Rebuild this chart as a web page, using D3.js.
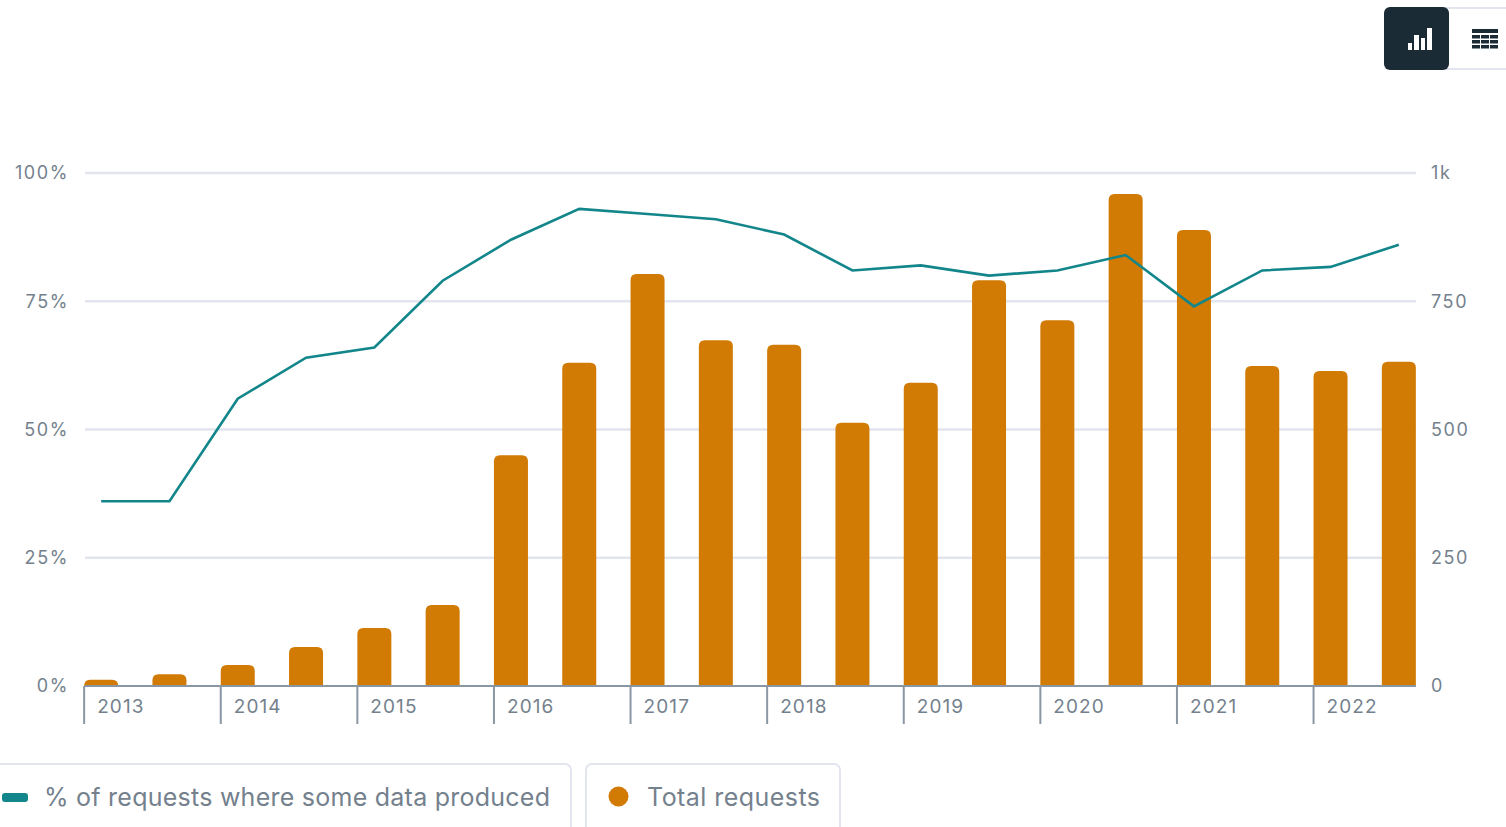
<!DOCTYPE html>
<html>
<head>
<meta charset="utf-8">
<script src="https://cdn.jsdelivr.net/npm/d3@7"></script>
<style>
  html, body { margin: 0; padding: 0; background: #fff; overflow: hidden; }
  text { font-family: Inter, "Open Sans", sans-serif; fill: #74818d; }
</style>
</head>
<body>
<div id="chart"></div>
<script>
// values
const periods = ["2013a","2013b","2014a","2014b","2015a","2015b","2016a","2016b","2017a","2017b",
                 "2018a","2018b","2019a","2019b","2020a","2020b","2021a","2021b","2022a","2022b"];
const yearLabels = ["2013","2014","2015","2016","2017","2018","2019","2020","2021","2022"];
const totalRequests = [12,23,41,76,113,158,450,630,803,674,665,513,591,791,713,959,889,624,614,632];
const pctProduced = [36,36,56,64,66,79,87,93,92,91,88,81,82,80,81,84,74,81,81.7,86];
const pctTicks = [0,25,50,75,100];
const totalTicks = [0,250,500,750,1000];

const width = 1506, height = 827;
const plot = { left: 67, right: 1433, top: 173, bottom: 686 };
const barWidth = 34;

const svg = d3.select("#chart").append("svg")
    .attr("width", width)
    .attr("height", height)
    .style("display", "block");

const x = d3.scaleBand().domain(periods).range([plot.left, plot.right]).padding(0);
const yPct = d3.scaleLinear().domain([0, 100]).range([plot.bottom, plot.top]);
const yTotal = d3.scaleLinear().domain([0, 1000]).range([plot.bottom, plot.top]);
const center = d => x(d) + x.bandwidth() / 2;

// grid + left axis
const leftAxis = svg.append("g")
    .attr("transform", "translate(85,0)")
    .call(d3.axisLeft(yPct).tickValues(pctTicks).tickFormat(d => d + "%").tickSize(0).tickPadding(16));
leftAxis.select(".domain").remove();
leftAxis.selectAll("text").style("font-size", "18px").style("letter-spacing", "1.6px");

svg.append("g").selectAll("line")
    .data(pctTicks.slice(1))
    .enter().append("line")
    .attr("x1", 85)
    .attr("x2", 1416)
    .attr("y1", d => yPct(d))
    .attr("y2", d => yPct(d))
    .attr("stroke", "#e3e5ee")
    .attr("stroke-width", 2.5);

// right axis
const rightAxis = svg.append("g")
    .attr("transform", "translate(1416,0)")
    .call(d3.axisRight(yTotal).tickValues(totalTicks).tickFormat(d => d === 1000 ? "1k" : d).tickSize(0).tickPadding(15));
rightAxis.select(".domain").remove();
rightAxis.selectAll("text").style("font-size", "18px").style("letter-spacing", "1.6px");

// bars, rounded on top only
const barPath = d => {
    const x0 = center(d.period) - barWidth / 2, x1 = x0 + barWidth;
    const y0 = yTotal(d.value), y1 = yTotal(0);
    const r = Math.min(6, y1 - y0);
    return `M${x0},${y1}V${y0 + r}Q${x0},${y0} ${x0 + r},${y0}H${x1 - r}Q${x1},${y0} ${x1},${y0 + r}V${y1}Z`;
};
svg.append("g").selectAll("path")
    .data(periods.map((p, i) => ({ period: p, value: totalRequests[i] })))
    .enter().append("path")
    .attr("d", barPath)
    .attr("fill", "#d17a04");

// x axis: a tick every two bars, label to the right of it
const xAxisG = svg.append("g");
xAxisG.append("line")
    .attr("x1", 85).attr("x2", 1416)
    .attr("y1", plot.bottom).attr("y2", plot.bottom)
    .attr("stroke", "#8a96a3").attr("stroke-width", 2);
const yearG = xAxisG.selectAll("g")
    .data(yearLabels)
    .enter().append("g")
    .attr("transform", (d, i) => "translate(" + (center(periods[i * 2]) - barWidth / 2) + "," + plot.bottom + ")");
yearG.append("line")
    .attr("y2", 38)
    .attr("stroke", "#8a96a3")
    .attr("stroke-width", 2);
yearG.append("text")
    .attr("x", 13)
    .attr("y", 27)
    .style("font-size", "19px")
    .style("letter-spacing", "1.1px")
    .text(d => d);

// line series
const line = d3.line()
    .x((d, i) => center(periods[i]))
    .y(d => yPct(d));
svg.append("path")
    .datum(pctProduced)
    .attr("d", line)
    .attr("fill", "none")
    .attr("stroke", "#12868a")
    .attr("stroke-width", 2.6);

// legend
const legend = svg.append("g");
legend.append("rect")
    .attr("x", -10).attr("y", 764).attr("width", 581).attr("height", 90).attr("rx", 6)
    .attr("fill", "#fff").attr("stroke", "#e3e5ee").attr("stroke-width", 2);
legend.append("rect")
    .attr("x", 586).attr("y", 764).attr("width", 254).attr("height", 90).attr("rx", 6)
    .attr("fill", "#fff").attr("stroke", "#e3e5ee").attr("stroke-width", 2);
legend.append("rect")
    .attr("x", 2).attr("y", 793).attr("width", 26).attr("height", 9).attr("rx", 3)
    .attr("fill", "#12868a");
legend.append("circle")
    .attr("cx", 618.5).attr("cy", 796.5).attr("r", 10)
    .attr("fill", "#d17a04");
legend.append("text")
    .attr("x", 44).attr("y", 806)
    .attr("textLength", 506)
    .style("font-size", "25px")
    .text("% of requests where some data produced");
legend.append("text")
    .attr("x", 647).attr("y", 806)
    .attr("textLength", 173)
    .style("font-size", "25px")
    .text("Total requests");

// chart / table toggle
const toggle = svg.append("g");
toggle.append("rect")
    .attr("x", 1430).attr("y", 8).attr("width", 100).attr("height", 61).attr("rx", 6)
    .attr("fill", "#fff").attr("stroke", "#e3e5ee").attr("stroke-width", 2);
toggle.append("rect")
    .attr("x", 1384).attr("y", 7).attr("width", 65).attr("height", 63).attr("rx", 6)
    .attr("fill", "#1b2b36");
[[1408,43,4,7],[1414,35,5,15],[1421,38,4,12],[1427,28,5,22]].forEach(b => {
    toggle.append("rect").attr("x", b[0]).attr("y", b[1]).attr("width", b[2]).attr("height", b[3]).attr("fill", "#fff");
});
toggle.append("rect").attr("x", 1472).attr("y", 29).attr("width", 26).attr("height", 4).attr("fill", "#1b2b36");
d3.range(3).forEach(r => d3.range(3).forEach(c => {
    toggle.append("rect")
        .attr("x", 1472 + c * 9).attr("y", 35 + r * 5)
        .attr("width", 8).attr("height", 3.5).attr("fill", "#1b2b36");
}));
</script>
</body>
</html>
